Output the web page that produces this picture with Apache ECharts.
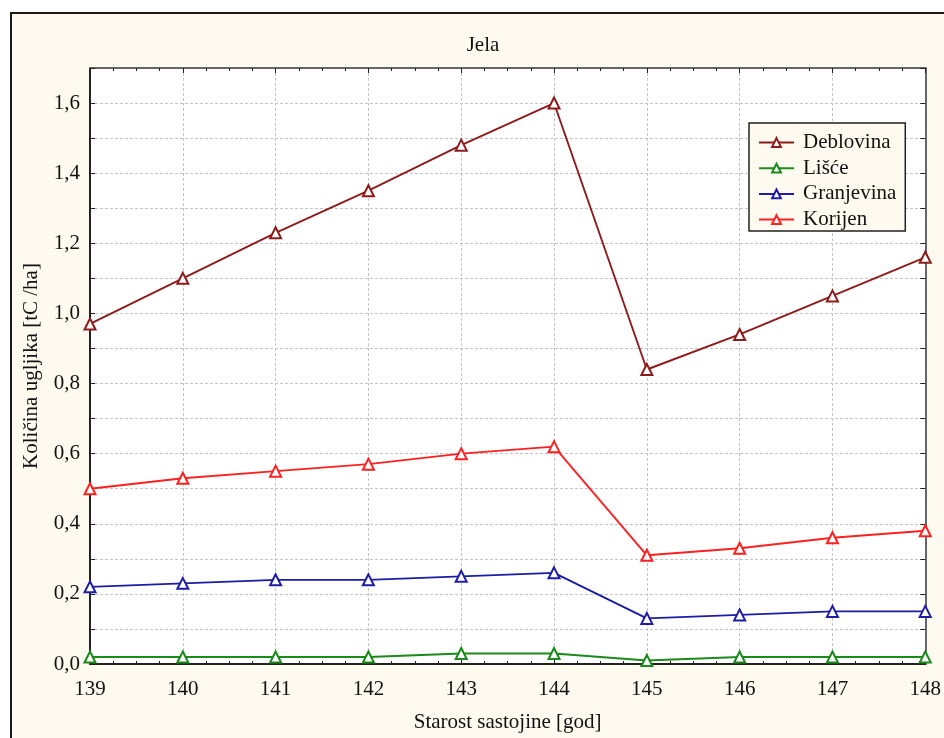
<!DOCTYPE html>
<html>
<head>
<meta charset="utf-8">
<script src="https://cdn.jsdelivr.net/npm/echarts@6/dist/echarts.min.js"></script>
<style>
html,body{margin:0;padding:0;background:#fff;}
#c{width:944px;height:738px;}
</style>
</head>
<body>
<div id="c"></div>
<script>
const years = [139, 140, 141, 142, 143, 144, 145, 146, 147, 148];
const deblovina = [0.97, 1.10, 1.23, 1.35, 1.48, 1.60, 0.84, 0.94, 1.05, 1.16];
const lisce = [0.02, 0.02, 0.02, 0.02, 0.03, 0.03, 0.01, 0.02, 0.02, 0.02];
const granjevina = [0.22, 0.23, 0.24, 0.24, 0.25, 0.26, 0.13, 0.14, 0.15, 0.15];
const korijen = [0.50, 0.53, 0.55, 0.57, 0.60, 0.62, 0.31, 0.33, 0.36, 0.38];
const seriesNames = ['Deblovina', 'Lišće', 'Granjevina', 'Korijen'];
const seriesColors = ['#8e1b1b', '#1a8a1a', '#1c1ca6', '#ff2020'];
const seriesValues = [deblovina, lisce, granjevina, korijen];

const FONT = '"Liberation Serif", "DejaVu Serif", serif';
const FS = 21;
const chart = echarts.init(document.getElementById('c'));

const series = seriesNames.map((n, i) => ({
  name: n,
  type: 'line',
  data: years.map((y, j) => [y, seriesValues[i][j]]),
  symbol: 'emptyTriangle',
  symbolSize: 11,
  showAllSymbol: true,
  clip: true,
  lineStyle: { color: seriesColors[i], width: 1.9 },
  itemStyle: { color: seriesColors[i], borderColor: seriesColors[i], borderWidth: 1.8 },
  emphasis: { disabled: true },
  z: 10 - i
}));

chart.setOption({
  animation: false,
  backgroundColor: '#fff',
  textStyle: { fontFamily: FONT },
  graphic: [{
    type: 'rect',
    z: -100,
    silent: true,
    shape: { x: 11, y: 13, width: 1000, height: 800 },
    style: { fill: '#fefaef', stroke: '#1a1a1a', lineWidth: 2 }
  }],
  title: {
    text: 'Jela',
    left: 478,
    textAlign: 'center',
    top: 30,
    textStyle: { fontFamily: FONT, fontSize: FS, fontWeight: 'normal', color: '#111' }
  },
  legend: {
    data: seriesNames.map(n => ({ name: n, itemStyle: { borderWidth: 1.8 } })),
    orient: 'vertical',
    left: 749,
    top: 123,
    padding: [9, 9, 1, 9],
    itemWidth: 35,
    itemHeight: 11,
    itemGap: 4.7,
    backgroundColor: '#fefaef',
    borderColor: '#222',
    borderWidth: 1.5,
    textStyle: { fontFamily: FONT, fontSize: FS, color: '#111', padding: [0, 0, 0, 4] },
    selectedMode: false
  },
  grid: {
    left: 90, right: 18, top: 68, bottom: 71,
    show: true,
    backgroundColor: '#fff',
    borderWidth: 0
  },
  xAxis: [{
    type: 'value',
    min: 139, max: 148, interval: 1,
    position: 'bottom',
    name: 'Starost sastojine [god]',
    nameLocation: 'middle',
    nameGap: 48,
    nameTextStyle: { fontFamily: FONT, fontSize: FS, color: '#111' },
    axisLine: { show: true, onZero: false, lineStyle: { color: '#222', width: 2 } },
    axisTick: { show: true, inside: true, length: 5, lineStyle: { color: '#222' } },
    minorTick: { show: true, splitNumber: 4, length: 3, lineStyle: { color: '#222' } },
    axisLabel: { margin: 15, fontFamily: FONT, fontSize: FS, color: '#111' },
    splitLine: { show: true, lineStyle: { color: '#c4c4c4', type: [3, 2], width: 1 } }
  }, {
    type: 'value',
    min: 139, max: 148, interval: 1,
    position: 'top',
    axisLine: { show: true, onZero: false, lineStyle: { color: '#666', width: 2 } },
    axisTick: { show: true, inside: true, length: 5, lineStyle: { color: '#222' } },
    minorTick: { show: true, splitNumber: 4, length: 3, lineStyle: { color: '#222' } },
    axisLabel: { show: false },
    splitLine: { show: false }
  }],
  yAxis: [{
    type: 'value',
    min: 0, max: 1.7, interval: 0.1,
    position: 'left',
    name: 'Količina ugljika [tC /ha]',
    nameLocation: 'middle',
    nameGap: 48,
    nameTextStyle: { fontFamily: FONT, fontSize: FS, color: '#111' },
    axisLine: { show: true, onZero: false, lineStyle: { color: '#222', width: 2 } },
    axisTick: { show: true, inside: true, length: 5, lineStyle: { color: '#222' } },
    axisLabel: {
      margin: 10, fontFamily: FONT, fontSize: FS, color: '#111',
      formatter: v => {
        const t = Math.round(v * 10);
        if (t % 2 !== 0 || t > 16) return '';
        return (t / 10).toFixed(1).replace('.', ',');
      }
    },
    splitLine: { show: true, lineStyle: { color: '#c4c4c4', type: [3, 2], width: 1 } }
  }, {
    type: 'value',
    min: 0, max: 1.7, interval: 0.1,
    position: 'right',
    axisLine: { show: true, onZero: false, lineStyle: { color: '#666', width: 2 } },
    axisTick: { show: true, inside: true, length: 5, lineStyle: { color: '#222' } },
    axisLabel: { show: false },
    splitLine: { show: false }
  }],
  series: series
});
</script>
</body>
</html>
